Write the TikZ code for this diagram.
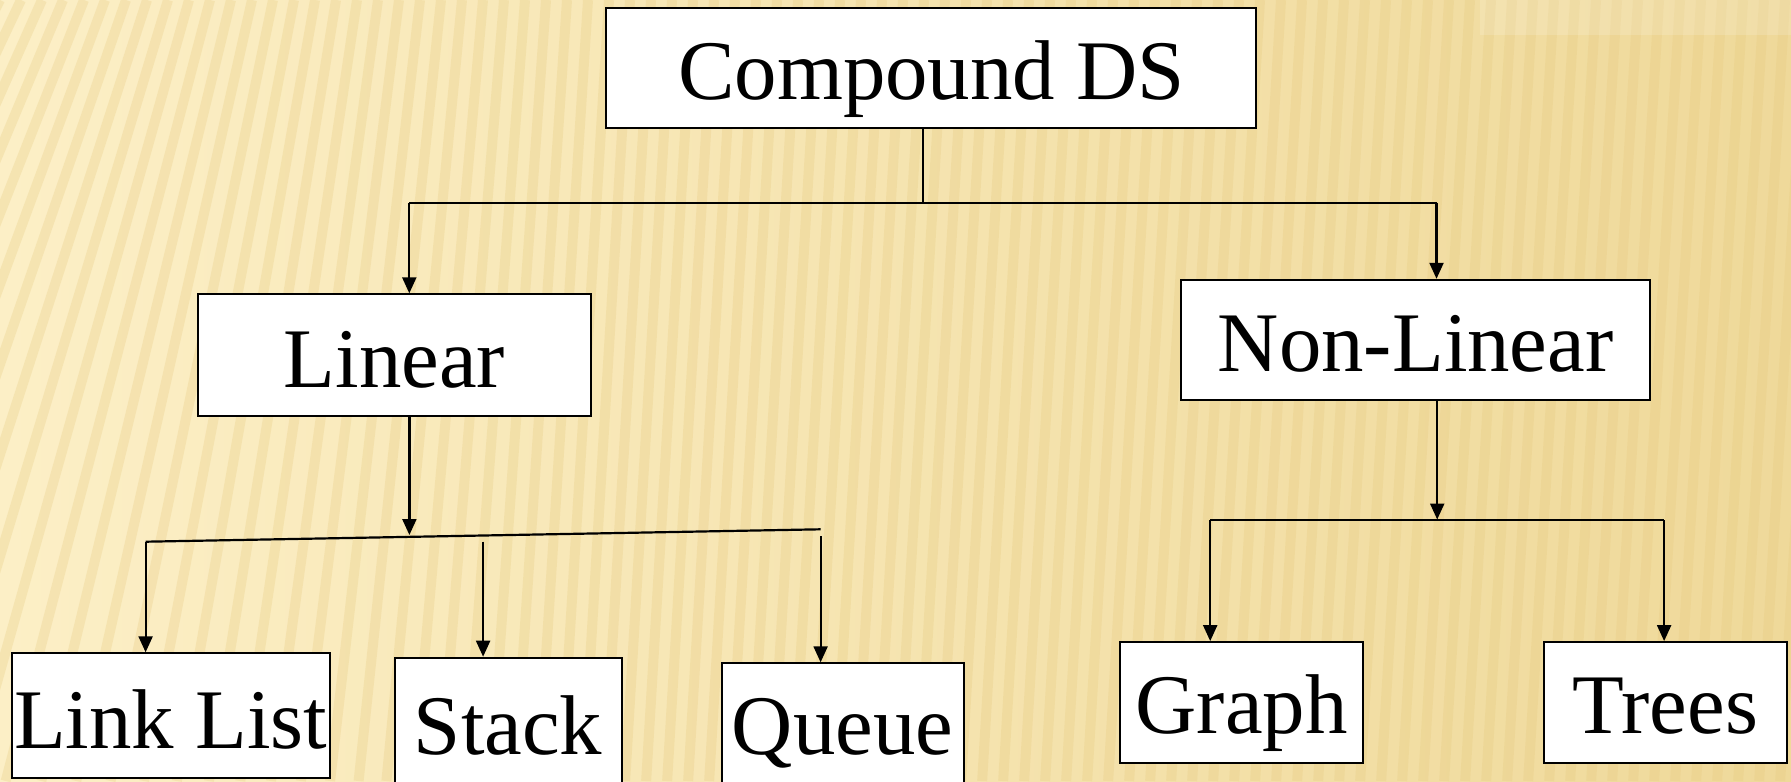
\documentclass[tikz,border=0pt]{standalone}
\usepackage{fontspec}
\setmainfont{Liberation Serif}
\usetikzlibrary{positioning, arrows.meta}
\definecolor{paperlight}{HTML}{FCEFC6}
\definecolor{papermid}{HTML}{F7E5AB}
\definecolor{paperdark}{HTML}{EFD99A}
\definecolor{stripe}{HTML}{E6C97E}

\begin{document}
\begin{tikzpicture}[x=0.5pt, y=-0.5pt,
        box/.style={draw, fill=white, line width=1pt, inner sep=0pt, anchor=north west,
            font=\fontsize{42.4}{50}\selectfont},
        link/.style={line width=1.1pt},
        arr/.style={link, -{Triangle[length=8pt,width=7pt]}}]
        \path[use as bounding box, clip] (0,0) rectangle (1791,781);
        \shade[left color=paperlight, middle color=papermid, right color=paperdark] (0,0) rectangle (1791,781);
        \foreach \x in {0,21,...,1900} {
            \pgfmathsetmacro{\t}{0.06+0.44*max(0,1-\x/650)^2}
            \draw[stripe, line width=5pt, opacity=0.28] (\x,0) -- ({\x-\t*781},781);
        }
        \fill[white, opacity=0.15] (1480,0) rectangle (1791,35);

        \node[box, minimum width=325pt, text height=45.8pt, text depth=14.5pt] (cds) at (605.4,6.7) {Compound DS};
        \node[box, minimum width=196.6pt, text height=46.7pt, text depth=14.15pt] (lin) at (196.9,293.3) {Linear};
        \node[box, minimum width=234.5pt, text height=45.7pt, text depth=14.55pt] (nonlin) at (1180.2,278.8) {Non-Linear};
        \node[box, minimum width=159.1pt, text height=47.5pt, text depth=15pt] (list) at (10.6,652.3) {Link List};
        \node[box, minimum width=113.4pt, text height=48.3pt, text depth=30pt] (stack) at (393.75,656.7) {Stack};
        \node[box, minimum width=121pt, text height=45.5pt, text depth=30pt] (queue) at (720.6,662.3) {Queue};
        \node[box, minimum width=121.2pt, text height=45.75pt, text depth=14.7pt] (graph) at (1119.4,641.1) {Graph};
        \node[box, minimum width=121.5pt, text height=45.75pt, text depth=14.7pt] (trees) at (1542.9,641.1) {Trees};

        \coordinate (top) at (922.8,202.7);
        \coordinate (toplin) at (409.3,202.7);
        \coordinate (topnon) at (1436.5,202.7);
        \draw[link] (cds.south -| top) -- (top);
        \draw[link] (toplin) -- (topnon);
        \draw[arr] (toplin) -- (toplin |- lin.north);
        \draw[arr] (topnon) -- (topnon |- nonlin.north);

        \coordinate (linend) at (409.4,535);
        \coordinate (linl) at (145.6,541.7);
        \coordinate (linr) at (820.6,529.3);
        \coordinate (stk) at (483.1,541.7);
        \coordinate (que) at (820.6,536);
        \draw[arr] (lin.south -| linend) -- (linend);
        \draw[link] (linl) -- (linr);
        \draw[arr] (linl) -- (linl |- list.north);
        \draw[arr] (stk) -- (stk |- stack.north);
        \draw[arr] (que) -- (que |- queue.north);

        \coordinate (nonend) at (1437.2,519.5);
        \coordinate (nonl) at (1210.2,520);
        \coordinate (nonr) at (1664.1,520);
        \draw[arr] (nonlin.south -| nonend) -- (nonend);
        \draw[link] (nonl) -- (nonr);
        \draw[arr] (nonl) -- (nonl |- graph.north);
        \draw[arr] (nonr) -- (nonr |- trees.north);
\end{tikzpicture}
\end{document}
